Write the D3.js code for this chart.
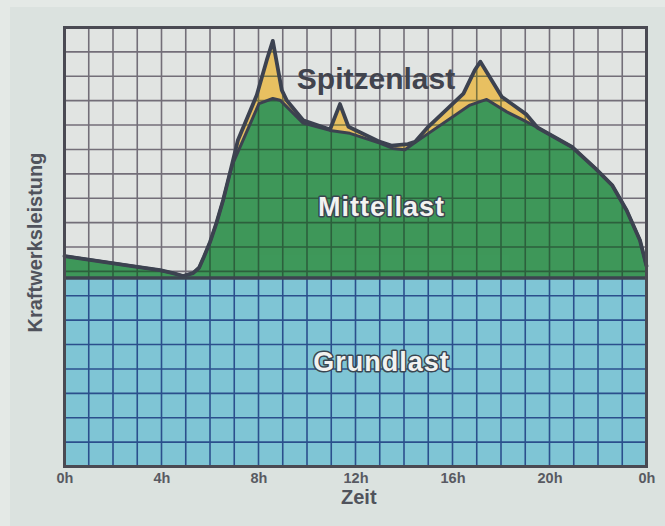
<!DOCTYPE html>
<html>
<head>
<meta charset="utf-8">
<script src="https://cdn.jsdelivr.net/npm/d3@7"></script>
<style>
  html, body { margin: 0; padding: 0; background: #e3e8e5; }
  svg { display: block; }
</style>
</head>
<body>
<svg id="chart" width="665" height="526"></svg>
<script>
// ---- data (hours of day, load in grid units) ----
const hoursTotal = [0, 3, 3.94, 4.47, 4.89, 5.3, 5.55, 5.75, 6.0, 6.27, 6.54, 6.82, 7.15, 7.93, 8.34, 8.59, 8.96, 9.16, 9.84, 10.95, 11.36, 11.71, 13.01, 13.48, 14.16, 14.45, 15.0, 16.45, 16.93, 17.15, 18.03, 19.03, 19.5, 20.93, 21.89, 22.58, 23.18, 23.73, 24];
const gesamtlast = [8.63, 8.19, 8.05, 7.93, 7.81, 7.93, 8.15, 8.6, 9.2, 10.0, 10.92, 12.03, 13.38, 15.23, 16.66, 17.45, 15.43, 15.02, 14.2, 13.82, 14.86, 13.93, 13.31, 13.16, 13.22, 13.31, 13.93, 15.29, 16.27, 16.6, 15.16, 14.45, 13.9, 13.1, 12.22, 11.54, 10.51, 9.28, 8.22];
const hoursMittel = [0, 3, 3.94, 4.47, 4.89, 5.3, 5.55, 5.75, 6.0, 6.27, 6.54, 6.82, 6.95, 8.02, 8.59, 8.89, 9.84, 10.95, 11.77, 13.0, 13.54, 14.04, 14.45, 16.72, 17.41, 18.24, 18.92, 19.5, 20.93, 21.89, 22.58, 23.18, 23.73, 24];
const mittellast = [8.63, 8.19, 8.05, 7.93, 7.81, 7.93, 8.15, 8.6, 9.2, 10.0, 10.92, 12.03, 12.44, 14.88, 15.09, 15.02, 14.08, 13.78, 13.66, 13.26, 13.04, 12.99, 13.28, 14.82, 15.05, 14.54, 14.2, 13.9, 13.1, 12.22, 11.54, 10.51, 9.28, 8.22];
const grundlast = 7.73;
const tickHours = [0, 4, 8, 12, 16, 20, 24];
const tickLabels = ["0h", "4h", "8h", "12h", "16h", "20h", "0h"];
const areaLabels = ["Spitzenlast", "Mittellast", "Grundlast"];

// ---- layout ----
const svg = d3.select("#chart");
const L = 64.5, R = 646.5, T = 27.5, B = 466.5;
const x = d3.scaleLinear().domain([0, 24]).range([L, R]);
const y = d3.scaleLinear().domain([0, 18]).range([B, T]);

// page background panels
svg.append("rect").attr("x", 0).attr("y", 0).attr("width", 665).attr("height", 526).attr("fill", "#e4e9e6");
svg.append("rect").attr("x", 10).attr("y", 7).attr("width", 655).attr("height", 519).attr("fill", "#dbe2df");

// plot background
svg.append("rect").attr("x", L).attr("y", T).attr("width", R - L).attr("height", B - T).attr("fill", "#e1e4e2");

const hourGrid = d3.range(0, 25);
const rowGrid = d3.range(0, 19);

function drawGrid(g, color, width) {
  g.selectAll("line.v").data(hourGrid).join("line")
    .attr("x1", d => x(d)).attr("x2", d => x(d))
    .attr("y1", T).attr("y2", B)
    .attr("stroke", color).attr("stroke-width", width);
  g.selectAll("line.h").data(rowGrid).join("line")
    .attr("y1", d => y(d)).attr("y2", d => y(d))
    .attr("x1", L).attr("x2", R)
    .attr("stroke", color).attr("stroke-width", width);
}

// light grid
drawGrid(svg.append("g"), "#736e78", 1.6);

const totalPts = hoursTotal.map((h, i) => [h, gesamtlast[i]]);
const mittelPts = hoursMittel.map((h, i) => [h, mittellast[i]]);

const area = d3.area().x(d => x(d[0])).y0(y(grundlast)).y1(d => y(d[1]));
const line = d3.line().x(d => x(d[0])).y(d => y(d[1]));

const defs = svg.append("defs");
defs.append("clipPath").attr("id", "loadClip").append("path").attr("d", area(totalPts));
defs.append("clipPath").attr("id", "baseClip").append("rect")
  .attr("x", L).attr("y", y(grundlast)).attr("width", R - L).attr("height", B - y(grundlast));

// Spitzenlast (yellow) and Mittellast (green)
svg.append("path").attr("d", area(totalPts)).attr("fill", "#e8c062");
svg.append("path").attr("d", area(mittelPts)).attr("fill", "#3e985a");

// grid over the filled areas
drawGrid(svg.append("g").attr("clip-path", "url(#loadClip)").attr("opacity", 0.55), "#1e3326", 1.6);

// Grundlast (blue)
svg.append("rect").attr("x", L).attr("y", y(grundlast)).attr("width", R - L).attr("height", B - y(grundlast)).attr("fill", "#7fc5d5");
drawGrid(svg.append("g").attr("clip-path", "url(#baseClip)"), "#2b4f8c", 1.6);

// outlines
svg.append("path").attr("d", line(mittelPts)).attr("fill", "none")
  .attr("stroke", "#3c4250").attr("stroke-width", 3).attr("stroke-linejoin", "round");
svg.append("path").attr("d", line(totalPts)).attr("fill", "none")
  .attr("stroke", "#3c4250").attr("stroke-width", 3.8).attr("stroke-linejoin", "round").attr("stroke-linecap", "round");
svg.append("line").attr("x1", L).attr("x2", R).attr("y1", y(grundlast)).attr("y2", y(grundlast))
  .attr("stroke", "#3d4450").attr("stroke-width", 3.5);

// frame
svg.append("rect").attr("x", L).attr("y", T).attr("width", R - L).attr("height", B - T)
  .attr("fill", "none").attr("stroke", "#4a4a53").attr("stroke-width", 3);

// x axis tick labels
const xAxis = d3.axisBottom(x).tickValues(tickHours).tickFormat((d, i) => tickLabels[i]).tickSize(0).tickPadding(6);
const ax = svg.append("g").attr("transform", `translate(0,${B})`).call(xAxis);
ax.select(".domain").remove();
ax.selectAll("text").attr("font-family", "Liberation Sans, Arial, sans-serif")
  .attr("font-weight", "bold").attr("font-size", 14.5).attr("fill", "#585a62");

// axis titles
svg.append("text").attr("x", 341).attr("y", 503.5).text("Zeit")
  .attr("font-family", "Liberation Sans, Arial, sans-serif").attr("font-weight", "bold")
  .attr("font-size", 20).attr("fill", "#50535c");
svg.append("text").attr("transform", "translate(41.5,242.5) rotate(-90)").attr("text-anchor", "middle")
  .text("Kraftwerksleistung")
  .attr("font-family", "Liberation Sans, Arial, sans-serif").attr("font-weight", "bold")
  .attr("font-size", 20).attr("fill", "#50535c");

// area labels
svg.append("text").attr("x", 376).attr("y", 88.5).attr("text-anchor", "middle").text(areaLabels[0])
  .attr("font-family", "Liberation Sans, Arial, sans-serif").attr("font-weight", "bold")
  .attr("font-size", 30).attr("fill", "#41444e");
[[areaLabels[1], 215.5], [areaLabels[2], 371]].forEach(([t, yy]) => {
  svg.append("text").attr("x", 381.5).attr("y", yy).attr("text-anchor", "middle").text(t)
    .attr("font-family", "Liberation Sans, Arial, sans-serif").attr("font-weight", "bold")
    .attr("font-size", 27).attr("letter-spacing", 1)
    .attr("fill", "#f2f2f0").attr("stroke", "#3a4650").attr("stroke-width", 3)
    .attr("paint-order", "stroke").attr("stroke-linejoin", "round");
});
</script>
</body>
</html>
